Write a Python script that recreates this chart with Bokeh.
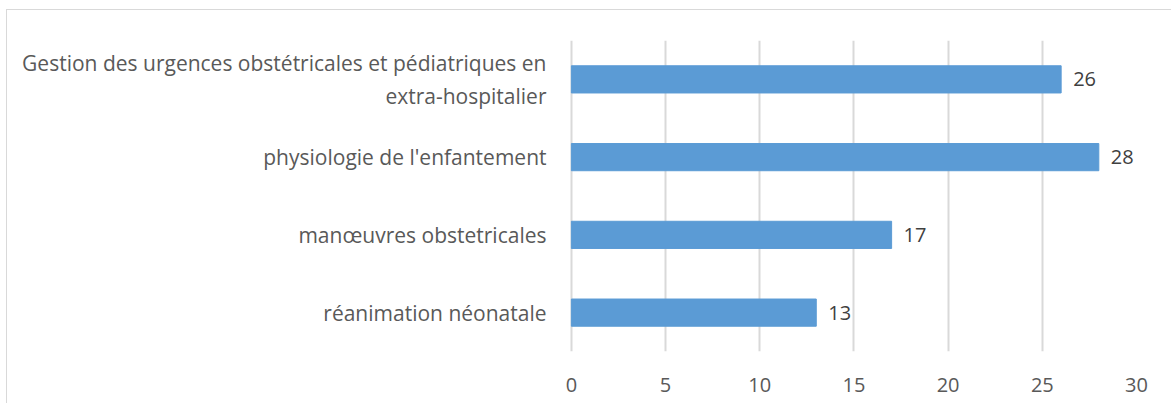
from bokeh.plotting import figure
from bokeh.models import ColumnDataSource, FactorRange, Range1d, LabelSet, FixedTicker
from bokeh.core.properties import value
from bokeh.embed import file_html
from bokeh.resources import INLINE

categories = [
    "Gestion des urgences obstétricales et pédiatriques en\nextra-hospitalier",
    "physiologie de l'enfantement",
    "manœuvres obstetricales",
    "réanimation néonatale",
]
values = [26, 28, 17, 13]
x_ticks = [0, 5, 10, 15, 20, 25, 30]

FONT = "Open Sans"

src = ColumnDataSource(dict(cat=categories, val=values, lab=[str(v) for v in values]))

p = figure(
    width=1165, height=394,
    y_range=FactorRange(*reversed(categories)),
    x_range=Range1d(-0.1, 30),
    output_backend="svg", toolbar_location=None,
    min_border_left=562, min_border_right=36, min_border_top=30, min_border_bottom=53,
)
p.styles = {"border-top": "1px solid #d9d9d9", "border-left": "1px solid #d9d9d9",
            "margin-left": "6px", "margin-top": "9px"}
p.outline_line_color = None

p.xgrid.grid_line_color = "#d9d9d9"
p.xgrid.grid_line_width = 2
p.ygrid.grid_line_color = None

p.hbar(y="cat", right="val", left=0, height=0.35, source=src,
       fill_color="#5B9BD5", line_color="#5B9BD5")

labels = LabelSet(x="val", y="cat", text="lab", source=src, x_offset=12,
                  text_align="left", text_baseline="middle",
                  text_font=value(FONT), text_font_size="20px", text_color="#404040")
p.add_layout(labels)

p.xaxis.ticker = FixedTicker(ticks=x_ticks)
p.xaxis.axis_line_color = None
p.xaxis.major_tick_line_color = None
p.xaxis.minor_tick_line_color = None
p.xaxis.major_label_text_font = FONT
p.xaxis.major_label_text_font_size = "20px"
p.xaxis.major_label_text_color = "#595959"
p.xaxis.major_label_standoff = 20

p.yaxis.axis_line_color = None
p.yaxis.major_tick_line_color = None
p.yaxis.minor_tick_line_color = None
p.yaxis.major_label_text_font = FONT
p.yaxis.major_label_text_font_size = "21px"
p.yaxis.major_label_text_color = "#595959"
p.yaxis.major_label_standoff = 17

open("out.html", "w").write(file_html(p, INLINE))
